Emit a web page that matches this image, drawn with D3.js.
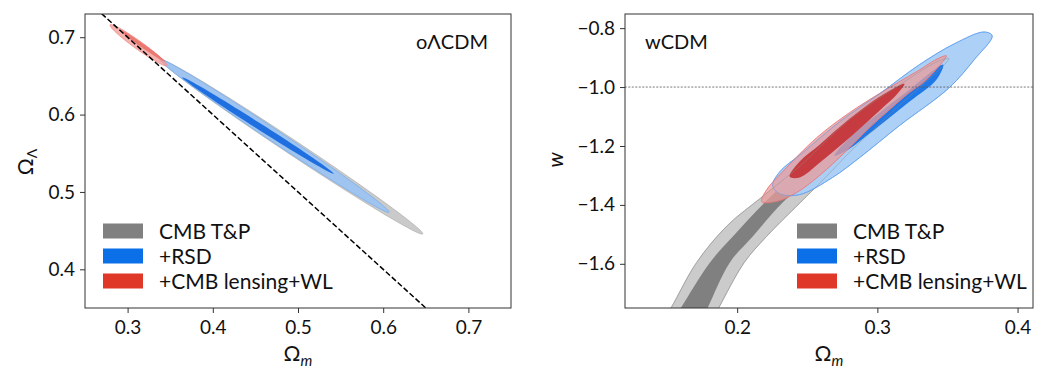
<!DOCTYPE html>
<html>
<head>
<meta charset="utf-8">
<script src="https://cdn.jsdelivr.net/npm/d3@7"></script>
<style>
  body { margin: 0; background: #fff; }
  svg text { font-family: Lato, "DejaVu Sans", sans-serif; fill: #111; }
  .axis path, .axis line { stroke: #333; }
</style>
</head>
<body>
<div id="chart"></div>
<script>
'use strict';

// ---- data ----
var olcdmTicksX = [0.3, 0.4, 0.5, 0.6, 0.7];
var olcdmTicksY = [0.4, 0.5, 0.6, 0.7];
var wcdmTicksX = [0.2, 0.3, 0.4];
var wcdmTicksY = [-1.6, -1.4, -1.2, -1.0, -0.8];

var legendLabels = ["CMB T&P", "+RSD", "+CMB lensing+WL"];
var legendColors = ["#808080", "#0b6fe8", "#e03828"];

// oLCDM contours: [Om tip1, OL tip1, Om tip2, OL tip2, vertical half width]
var olcdmCmbOuter = [0.338, 0.671, 0.6465, 0.446, 0.0110];
var olcdmRsdOuter = [0.338, 0.671, 0.607, 0.474, 0.0095];
var olcdmRsdInner = [0.364, 0.648, 0.5418, 0.5237, 0.0048];
var olcdmLensOuter = [0.2794, 0.7155, 0.3461, 0.6638, 0.0065];
var olcdmLensInner = [0.2912, 0.7093, 0.3441, 0.6686, 0.0030];
var flatLine = [[0.2, 0.8], [0.8, 0.2]];

// wCDM contours: outlines as [Om, w]
var wcdmCmbOuter = [[0.146, -1.80], [0.153, -1.748], [0.171, -1.596], [0.193, -1.470], [0.218, -1.372],
  [0.245, -1.267], [0.280, -1.111], [0.316, -0.992], [0.344, -0.911], [0.351, -0.904], [0.344, -0.941],
  [0.314, -1.070], [0.282, -1.213], [0.263, -1.307], [0.245, -1.392], [0.221, -1.507], [0.205, -1.596],
  [0.187, -1.748], [0.181, -1.80]];
var wcdmCmbInner = [[0.153, -1.80], [0.160, -1.748], [0.1805, -1.596], [0.1969, -1.507], [0.2196, -1.392],
  [0.2446, -1.281], [0.2801, -1.138], [0.3122, -1.033], [0.3228, -1.002], [0.3157, -1.050],
  [0.2801, -1.196], [0.2517, -1.314], [0.2325, -1.392], [0.2111, -1.507], [0.1947, -1.596],
  [0.1791, -1.748], [0.174, -1.80]];
var wcdmRsdOuter = [[0.2253, -1.335], [0.2303, -1.288], [0.2467, -1.223], [0.273, -1.118], [0.3015, -1.023],
  [0.330, -0.924], [0.3549, -0.853], [0.3762, -0.813], [0.3819, -0.826], [0.3691, -0.907], [0.3513, -1.002],
  [0.3157, -1.131], [0.2872, -1.240], [0.268, -1.307], [0.2446, -1.365], [0.2303, -1.362]];
var wcdmRsdInner = [[0.3470, -0.924], [0.3421, -0.975], [0.3228, -1.050], [0.2944, -1.158], [0.2801, -1.209],
  [0.2694, -1.233], [0.2801, -1.172], [0.3015, -1.087], [0.3228, -1.009], [0.3406, -0.941]];
var wcdmLensOuter = [[0.2175, -1.389], [0.2211, -1.348], [0.2325, -1.287], [0.2567, -1.172], [0.2801, -1.087],
  [0.3036, -1.016], [0.3278, -0.948], [0.3442, -0.901], [0.3492, -0.894], [0.3442, -0.928], [0.3335, -0.982],
  [0.3228, -1.019], [0.3086, -1.077], [0.2944, -1.138], [0.2780, -1.216], [0.2588, -1.300], [0.2424, -1.358],
  [0.2282, -1.388]];
var wcdmLensInner = [[0.2374, -1.304], [0.2446, -1.253], [0.2588, -1.196], [0.2801, -1.108], [0.3015, -1.033],
  [0.3193, -0.989], [0.3143, -1.023], [0.3015, -1.080], [0.2801, -1.172], [0.2588, -1.257], [0.2446, -1.307]];
var wLine = [[0.0, -1.0], [0.5, -1.0]];

// ---- layout ----
var w = 1060, h = 380;
var fontSize = 19;
var legendFont = 21;
var labelFont = 21;

var svg = d3.select("#chart").append("svg")
  .attr("width", w)
  .attr("height", h);

function makePanel(id, box, xDomain, yDomain, xTicks, yTicks) {
  var x = d3.scaleLinear().domain(xDomain).range([box.left, box.right]);
  var y = d3.scaleLinear().domain(yDomain).range([box.bottom, box.top]);

  svg.append("clipPath")
    .attr("id", id)
    .append("rect")
    .attr("x", box.left)
    .attr("y", box.top)
    .attr("width", box.right - box.left)
    .attr("height", box.bottom - box.top);

  var g = svg.append("g").attr("clip-path", "url(#" + id + ")");

  svg.append("g")
    .attr("class", "axis")
    .attr("transform", "translate(0," + box.bottom + ")")
    .call(d3.axisBottom(x).tickValues(xTicks).tickSize(5).tickPadding(8).tickFormat(d3.format(".1f")))
    .call(function (a) { a.select(".domain").remove(); })
    .selectAll("text").style("font-size", fontSize + "px");

  svg.append("g")
    .attr("class", "axis")
    .attr("transform", "translate(" + box.left + ",0)")
    .call(d3.axisLeft(y).tickValues(yTicks).tickSize(5).tickPadding(5).tickFormat(d3.format(".1f")))
    .call(function (a) { a.select(".domain").remove(); })
    .selectAll("text").style("font-size", fontSize + "px");

  return { x: x, y: y, g: g, box: box };
}

function drawFrame(p) {
  svg.append("rect")
    .attr("x", p.box.left)
    .attr("y", p.box.top)
    .attr("width", p.box.right - p.box.left)
    .attr("height", p.box.bottom - p.box.top)
    .attr("fill", "none")
    .attr("stroke", "#333")
    .attr("stroke-width", 1);
}

// thin tilted ellipse through two tips, thickness measured vertically
function ellipsePath(p, c) {
  var ax = p.x(c[0]), ay = p.y(c[1]);
  var bx = p.x(c[2]), by = p.y(c[3]);
  var mx = (ax + bx) / 2, my = (ay + by) / 2;
  var hx = (bx - ax) / 2, hy = (by - ay) / 2;
  var hv = Math.abs(p.y(c[1]) - p.y(c[1] + c[4]));
  var pts = [];
  for (var i = 0; i < 90; i++) {
    var t = i / 90 * 2 * Math.PI;
    pts.push([mx + hx * Math.cos(t), my + hy * Math.cos(t) + hv * Math.sin(t)]);
  }
  return d3.line()(pts) + "Z";
}

function outlinePath(p, pts) {
  return d3.line()
    .x(function (d) { return p.x(d[0]); })
    .y(function (d) { return p.y(d[1]); })
    .curve(d3.curveCatmullRomClosed.alpha(0.5))(pts);
}

function drawLegend(left, top) {
  var rows = svg.append("g").selectAll("g.legendRow")
    .data(legendLabels)
    .enter()
    .append("g")
    .attr("class", "legendRow")
    .attr("transform", function (d, i) {
      return "translate(" + left + "," + (top + i * 25) + ")";
    });
  rows.append("rect")
    .attr("x", 0)
    .attr("y", -7.5)
    .attr("width", 40)
    .attr("height", 15)
    .attr("fill", function (d, i) { return legendColors[i]; });
  rows.append("text")
    .attr("x", 56)
    .attr("y", 0)
    .attr("dy", "0.36em")
    .style("font-size", legendFont + "px")
    .text(function (d) { return d; });
}

function axisLabelX(p, main, sub) {
  var t = svg.append("text")
    .attr("x", (p.box.left + p.box.right) / 2)
    .attr("y", 361)
    .attr("text-anchor", "middle")
    .style("font-size", labelFont + "px");
  t.append("tspan").text(main);
  t.append("tspan")
    .attr("dy", "0.3em")
    .style("font-size", "15px")
    .style("font-style", "italic")
    .text(sub);
}

// ---- left panel: oLCDM ----
var left = makePanel("clipL", { left: 85, right: 511, top: 14, bottom: 308 },
  [0.25, 0.75], [0.35, 0.73], olcdmTicksX, olcdmTicksY);

left.g.append("path").attr("d", ellipsePath(left, olcdmCmbOuter))
  .attr("fill", "#cacaca").attr("stroke", "#b4b4b4").attr("stroke-width", 0.8);
left.g.append("path").attr("d", ellipsePath(left, olcdmRsdOuter))
  .attr("fill", "#9fc4f0").attr("stroke", "#7aaeee").attr("stroke-width", 0.8);
left.g.append("path").attr("d", ellipsePath(left, olcdmRsdInner))
  .attr("fill", "#1f6fe0");
left.g.append("path").attr("d", ellipsePath(left, olcdmLensOuter))
  .attr("fill", "#f2a09c").attr("fill-opacity", 0.8).attr("stroke", "#ee8a86").attr("stroke-width", 0.8);
left.g.append("path").attr("d", ellipsePath(left, olcdmLensInner))
  .attr("fill", "#e86a62").attr("fill-opacity", 0.8);

left.g.append("path")
  .attr("d", d3.line().x(function (d) { return left.x(d[0]); }).y(function (d) { return left.y(d[1]); })(flatLine))
  .attr("fill", "none")
  .attr("stroke", "#000")
  .attr("stroke-width", 1.5)
  .attr("stroke-dasharray", "5.5,2.5");

drawFrame(left);

svg.append("text")
  .attr("x", 488)
  .attr("y", 49)
  .attr("text-anchor", "end")
  .style("font-size", "20px")
  .text("oΛCDM");

axisLabelX(left, "Ω", "m");

var ylabL = svg.append("text")
  .attr("transform", "translate(33,162) rotate(-90)")
  .attr("text-anchor", "middle")
  .style("font-size", labelFont + "px");
ylabL.append("tspan").text("Ω");
ylabL.append("tspan").attr("dy", "0.3em").style("font-size", "14px").text("Λ");

drawLegend(103, 231);

// ---- right panel: wCDM ----
var right = makePanel("clipR", { left: 625, right: 1033, top: 14, bottom: 308 },
  [0.12, 0.411], [-1.75, -0.752], wcdmTicksX, wcdmTicksY);

right.g.append("path").attr("d", outlinePath(right, wcdmCmbOuter))
  .attr("fill", "#cbcbcb").attr("stroke", "#a8a8a8").attr("stroke-width", 0.8);
right.g.append("path").attr("d", outlinePath(right, wcdmCmbInner))
  .attr("fill", "#808080");
right.g.append("path").attr("d", outlinePath(right, wcdmRsdOuter))
  .attr("fill", "#a9cdf6").attr("fill-opacity", 0.95).attr("stroke", "#6ea8ee").attr("stroke-width", 0.9);
right.g.append("path").attr("d", outlinePath(right, wcdmRsdInner))
  .attr("fill", "#1f78e8");
right.g.append("path").attr("d", outlinePath(right, wcdmLensOuter))
  .attr("fill", "rgb(234,156,156)").attr("fill-opacity", 0.75).attr("stroke", "#e87878").attr("stroke-width", 0.9);
right.g.append("path").attr("d", outlinePath(right, wcdmLensInner))
  .attr("fill", "#c63b3f");
// contour lines that show through the upper layers
right.g.append("path").attr("d", outlinePath(right, wcdmCmbOuter))
  .attr("fill", "none").attr("stroke", "#8c8c8c").attr("stroke-opacity", 0.5).attr("stroke-width", 0.8);
right.g.append("path").attr("d", outlinePath(right, wcdmRsdOuter))
  .attr("fill", "none").attr("stroke", "#5a9cee").attr("stroke-opacity", 0.6).attr("stroke-width", 0.8);

right.g.append("path")
  .attr("d", d3.line().x(function (d) { return right.x(d[0]); }).y(function (d) { return right.y(d[1]); })(wLine))
  .attr("fill", "none")
  .attr("stroke", "#555")
  .attr("stroke-width", 0.8)
  .attr("stroke-dasharray", "2,1.5");

drawFrame(right);

svg.append("text")
  .attr("x", 645)
  .attr("y", 49)
  .style("font-size", "20px")
  .text("wCDM");

axisLabelX(right, "Ω", "m");

svg.append("text")
  .attr("transform", "translate(563,160) rotate(-90)")
  .attr("text-anchor", "middle")
  .style("font-size", labelFont + "px")
  .style("font-style", "italic")
  .text("w");

drawLegend(797, 231);
</script>
</body>
</html>
